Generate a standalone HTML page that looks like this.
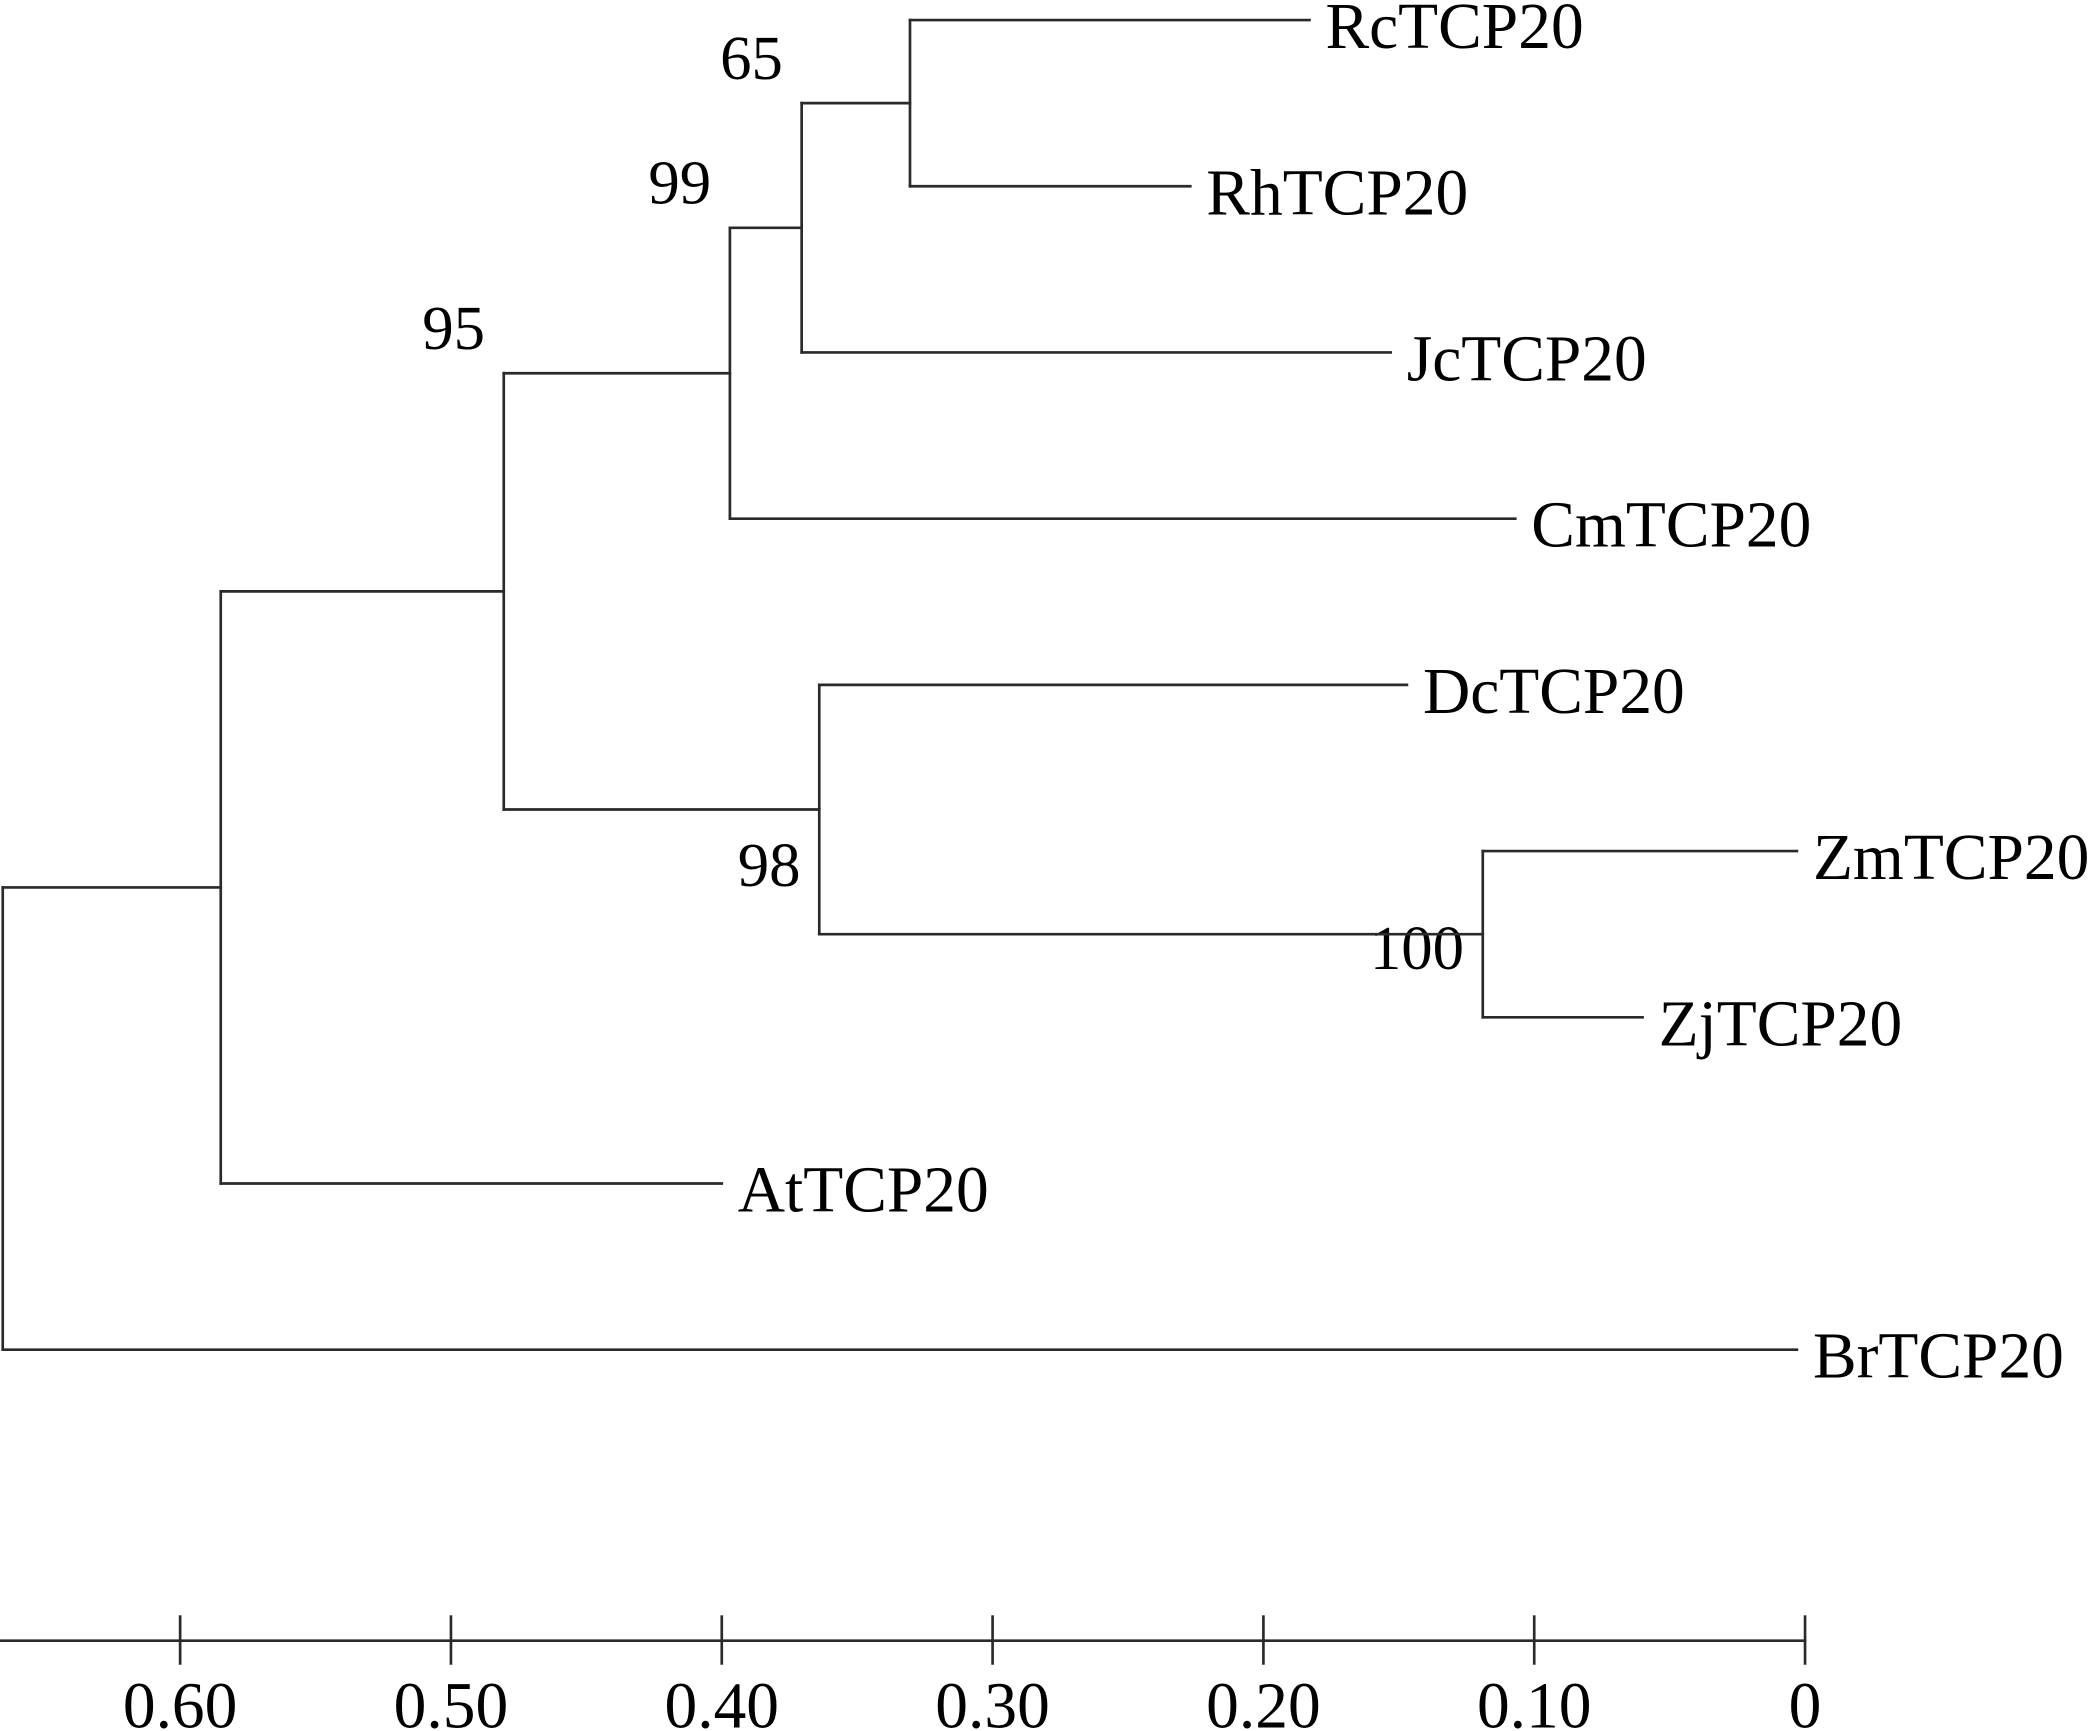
<!DOCTYPE html>
<html><head><meta charset="utf-8"><style>
html,body{margin:0;padding:0;background:#fff;}
svg{display:block;}
text{font-family:"Liberation Serif",serif;fill:#000;}
</style></head><body>
<svg id="chart" width="2095" height="1731" viewBox="0 0 1568 1295.6" xmlns="http://www.w3.org/2000/svg"></svg>
<script>
// leaves (top to bottom) and distance from tips axis (0 at right)
const leafNames = ["RcTCP20","RhTCP20","JcTCP20","CmTCP20","DcTCP20","ZmTCP20","ZjTCP20","AtTCP20","BrTCP20"];
const leafDist  = [0.183, 0.227, 0.153, 0.107, 0.147, 0.003, 0.060, 0.400, 0.003];
// internal nodes: children (leaf index "L#" or node index "N#"), axis position, bootstrap
const nodeChildren = [["L0","L1"],["N0","L2"],["N1","L3"],["L5","L6"],["L4","N3"],["N2","N4"],["N5","L7"],["N6","L8"]];
const nodeDist     = [0.3305, 0.3705, 0.397, 0.119, 0.364, 0.4805, 0.585, 0.6655];
const nodeSupport  = ["91","65","99","100","98","95","",""];
const supportBelow = [false,false,false,true,true,false,false,false];
const tickValues = [0.6,0.5,0.4,0.3,0.2,0.1,0];
const tickLabels = ["0.60","0.50","0.40","0.30","0.20","0.10","0"];

const svg = document.getElementById('chart');
const NS = "http://www.w3.org/2000/svg";
const X0 = 1351, PER = 2027;
const xs = d => X0 - d*PER;
const ys = i => 15 + i*124.4;
function mk(tag, attrs, name){
  const el = document.createElementNS(NS, tag);
  for (const k in attrs) el.setAttribute(k, attrs[k]);
  
  
  svg.appendChild(el);
  return el;
}
function line(x1,y1,x2,y2,name){ return mk('line',{x1,y1,x2,y2,stroke:'#2a2a2a','stroke-width':2,'stroke-linecap':'square'},name); }

const nodeY = [];
function pos(ref){
  const i = +ref.slice(1);
  if (ref[0]==='L') return {x: xs(leafDist[i]), y: ys(i)};
  return {x: xs(nodeDist[i]), y: nodeY[i]};
}
nodeChildren.forEach((ch, i) => {
  const a = pos(ch[0]), b = pos(ch[1]);
  nodeY[i] = (a.y + b.y)/2;
  const nx = xs(nodeDist[i]);
  line(nx, a.y, nx, b.y, 'node-vertical-' + i);
  line(nx, a.y, a.x, a.y, 'branch-' + ch[0]);
  line(nx, b.y, b.x, b.y, 'branch-' + ch[1]);
  if (nodeSupport[i]) {
    const t = mk('text', {x: nx - 14, y: supportBelow[i] ? b.y - 36 : a.y - 18, 'font-size': 47, 'text-anchor': 'end'}, 'bootstrap-' + nodeSupport[i]);
    t.textContent = nodeSupport[i];
  }
});
leafNames.forEach((n, i) => {
  const t = mk('text', {x: xs(leafDist[i]) + 12, y: ys(i) + 21, 'font-size': 49}, 'leaf-label-' + n.toLowerCase());
  t.textContent = n;
});
// scale axis
const AY = 1228;
line(0, AY, xs(0), AY, 'scale-axis-line');
tickValues.forEach((v, i) => {
  line(xs(v), AY-18, xs(v), AY+17, 'scale-tick-' + tickLabels[i]);
  const t = mk('text', {x: xs(v), y: 1293, 'font-size': 49, 'text-anchor': 'middle'}, 'scale-label-' + tickLabels[i]);
  t.textContent = tickLabels[i];
});
</script>
</body></html>
